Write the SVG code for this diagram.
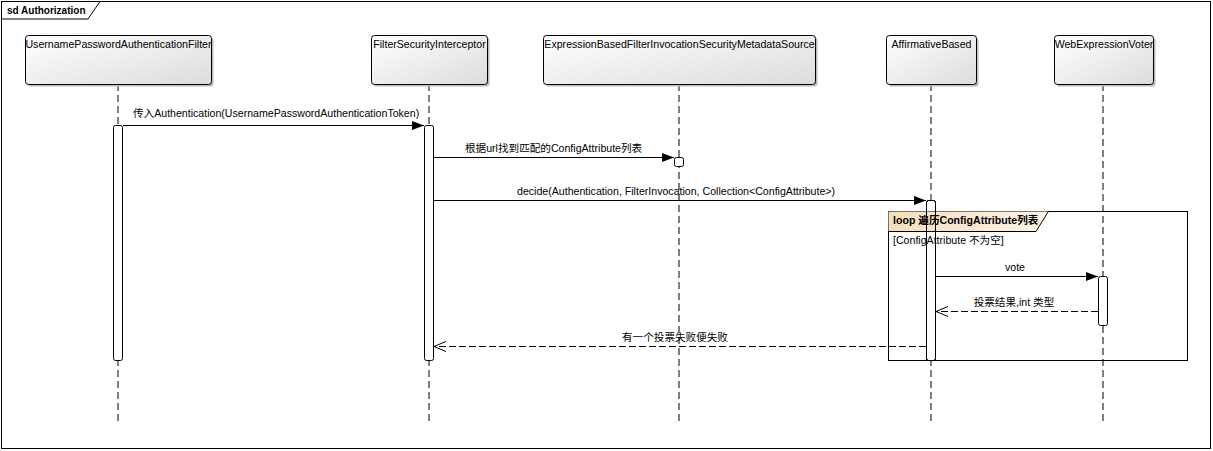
<svg xmlns="http://www.w3.org/2000/svg" width="1213" height="451" viewBox="0 0 1213 451">
<style>
text{font-family:"Liberation Sans","Noto Sans CJK SC",sans-serif;font-size:10.6px;fill:#000}
.b{font-weight:bold}
.title{font-size:10px}
.box{fill:url(#boxg);stroke:#000;stroke-width:1}
.shadow{fill:#bbb}
.life{stroke:#000;stroke-width:1;stroke-dasharray:7,4;fill:none}
.act{fill:#fff;stroke:#000;stroke-width:1}
.acto{fill:none;stroke:#000;stroke-width:1}
.msg{stroke:#000;stroke-width:1;fill:none}
.ret{stroke:#000;stroke-width:1;stroke-dasharray:7,3;fill:none}
</style>
<defs>
<linearGradient id="boxg" x1="0" y1="0" x2="1" y2="1">
<stop offset="0" stop-color="#ffffff"/>
<stop offset="1" stop-color="#dcdcdc"/>
</linearGradient>
<linearGradient id="tabg" x1="0" y1="0" x2="1" y2="0">
<stop offset="0" stop-color="#f6dfbb"/>
<stop offset="1" stop-color="#fcf3e4"/>
</linearGradient>
<marker id="filled" markerUnits="userSpaceOnUse" markerWidth="13" markerHeight="10" refX="12" refY="4.5" orient="auto">
<path d="M0,0 L12,4.5 L0,9 z" fill="#000"/>
</marker>
<marker id="open" markerUnits="userSpaceOnUse" markerWidth="14" markerHeight="12" refX="12" refY="5.5" orient="auto">
<path d="M0,0.5 L12,5.5 L0,10.5" fill="none" stroke="#000" stroke-width="1"/>
</marker>
</defs>
<rect x="0" y="0" width="1213" height="451" fill="#fff"/>
<g id="frame">
<rect x="1.5" y="1.5" width="1209" height="447" fill="none" stroke="#000" stroke-width="1"/>
<path d="M1.5,19 L88,19 L100,1.5" fill="none" stroke="#000" stroke-width="1"/>
<text x="7" y="14" class="b title">sd Authorization</text>
</g>
<g id="lifelines">
<line class="life" x1="118" y1="84" x2="118" y2="422"/>
<line class="life" x1="429" y1="84" x2="429" y2="422"/>
<line class="life" x1="679" y1="84" x2="679" y2="422"/>
<line class="life" x1="931" y1="84" x2="931" y2="422"/>
<line class="life" x1="1103" y1="84" x2="1103" y2="422"/>
</g>
<g id="n1">
<rect class="shadow" x="27.5" y="37.5" width="186" height="49" rx="3"/>
<rect class="box" x="25.5" y="35.5" width="186" height="49" rx="3"/>
<text x="118.5" y="48" text-anchor="middle">UsernamePasswordAuthenticationFilter</text>
</g>
<g id="n2">
<rect class="shadow" x="373.5" y="37.5" width="116" height="49" rx="3"/>
<rect class="box" x="371.5" y="35.5" width="116" height="49" rx="3"/>
<text x="429.5" y="48" text-anchor="middle">FilterSecurityInterceptor</text>
</g>
<g id="n3">
<rect class="shadow" x="545.5" y="37.5" width="272" height="49" rx="3"/>
<rect class="box" x="543.5" y="35.5" width="272" height="49" rx="3"/>
<text x="679.5" y="48" text-anchor="middle">ExpressionBasedFilterInvocationSecurityMetadataSource</text>
</g>
<g id="n4">
<rect class="shadow" x="888.5" y="37.5" width="90" height="49" rx="3"/>
<rect class="box" x="886.5" y="35.5" width="90" height="49" rx="3"/>
<text x="931.5" y="48" text-anchor="middle">AffirmativeBased</text>
</g>
<g id="n5">
<rect class="shadow" x="1056.5" y="37.5" width="99" height="49" rx="3"/>
<rect class="box" x="1054.5" y="35.5" width="99" height="49" rx="3"/>
<text x="1104" y="48" text-anchor="middle">WebExpressionVoter</text>
</g>
<g id="activations">
<rect class="act" x="113.5" y="125.5" width="9" height="235" rx="2"/>
<rect class="act" x="424.5" y="125.5" width="9" height="235" rx="2"/>
<rect class="act" x="926.5" y="200.5" width="9" height="160" rx="2"/>
<rect class="act" x="1098.5" y="276.5" width="9" height="49" rx="2"/>
<rect class="act" x="674.5" y="157.5" width="9" height="9" rx="2"/>
</g>
<g id="loop">
<rect x="888.5" y="211.5" width="299" height="149" fill="none" stroke="#000" stroke-width="1"/>
<path d="M888.5,211.5 L1048,211.5 L1048,213 L1036,231.5 L888.5,231.5 z" fill="url(#tabg)" stroke="none"/>
<path d="M888.5,231.5 L1036,231.5 L1048,212" fill="none" stroke="#000" stroke-width="1"/>
<text x="893" y="224" class="b">loop 遍历ConfigAttribute列表</text>
<text x="893" y="244">[ConfigAttribute 不为空]</text>
<rect class="acto" x="926.5" y="200.5" width="9" height="160" rx="2"/>
</g>
<g id="connectors">
<line class="msg" x1="123" y1="125.5" x2="424" y2="125.5" marker-end="url(#filled)"/>
<text x="133" y="117">传入Authentication(UsernamePasswordAuthenticationToken)</text>
<line class="msg" x1="434" y1="157.5" x2="674" y2="157.5" marker-end="url(#filled)"/>
<text x="465" y="152">根据url找到匹配的ConfigAttribute列表</text>
<line class="msg" x1="434" y1="200.5" x2="926" y2="200.5" marker-end="url(#filled)"/>
<text x="517" y="195">decide(Authentication, FilterInvocation, Collection&lt;ConfigAttribute&gt;)</text>
<line class="msg" x1="936" y1="276.5" x2="1098" y2="276.5" marker-end="url(#filled)"/>
<text x="1015" y="271" text-anchor="middle">vote</text>
<line class="ret" x1="1098" y1="311.5" x2="936" y2="311.5" marker-end="url(#open)"/>
<text x="1014" y="306" text-anchor="middle">投票结果,int 类型</text>
<line class="ret" x1="926" y1="346.5" x2="434" y2="346.5" marker-end="url(#open)"/>
<text x="675" y="341" text-anchor="middle">有一个投票失败便失败</text>
</g>
</svg>
